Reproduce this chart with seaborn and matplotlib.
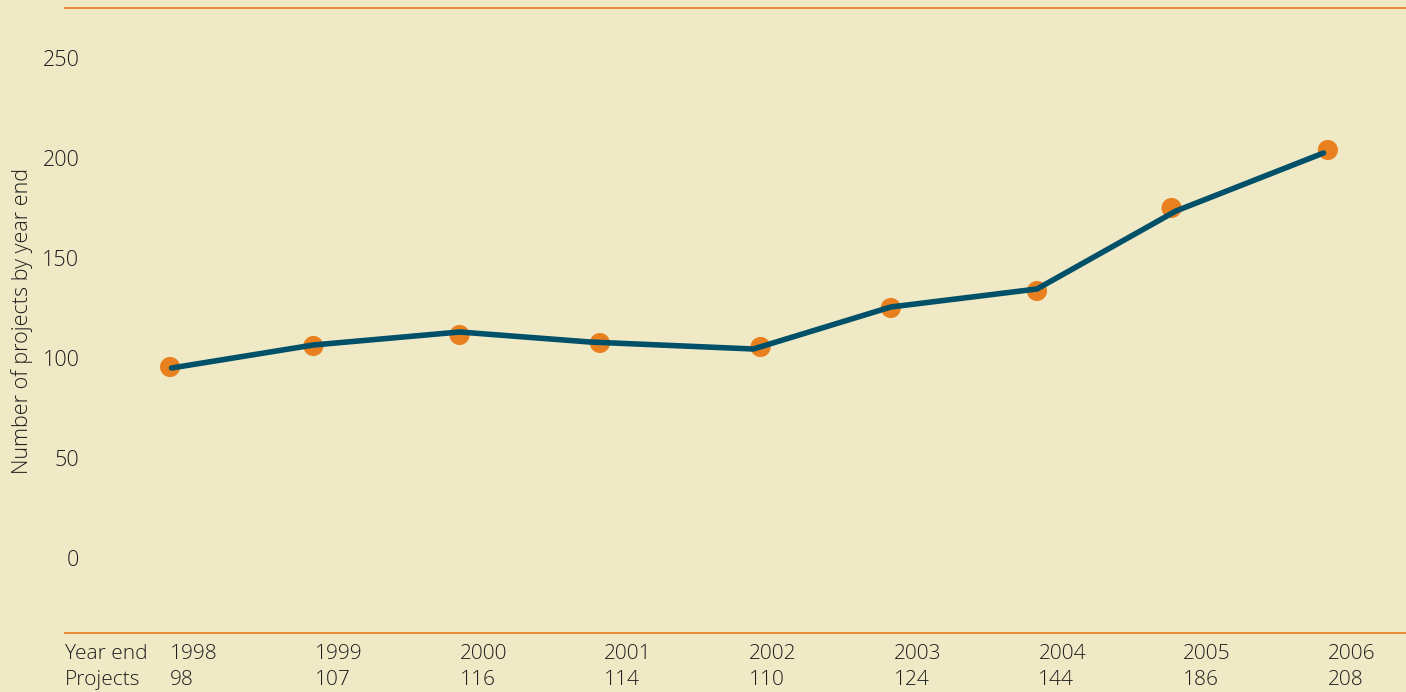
import matplotlib
matplotlib.use("Agg")
import matplotlib.pyplot as plt
import matplotlib.transforms as mtransforms
import seaborn as sns
import pandas as pd

# ---- data ----
years = [1998, 1999, 2000, 2001, 2002, 2003, 2004, 2005, 2006]
projects = [98, 107, 116, 114, 110, 124, 144, 186, 208]

# plotted dots (fractional year position, value)
dot_x = [1998.0, 1998.99, 2000.0, 2000.97, 2002.08, 2002.98, 2003.99, 2004.92, 2006.0]
dot_y = [95.5, 106.0, 111.5, 107.5, 105.5, 125.0, 133.5, 175.0, 204.0]

# plotted line vertices
line_x = [1998.01, 1998.99, 2000.0, 2000.90, 2002.03, 2002.98, 2003.99, 2004.95, 2005.97]
line_y = [95.0, 106.5, 113.0, 108.0, 104.5, 125.5, 134.5, 173.5, 202.5]

y_ticks = [0, 50, 100, 150, 200, 250]
y_label = "Number of projects by year end"
row_labels = ["Year end", "Projects"]

# ---- style ----
BG = "#f0e9c6"
ORANGE = "#e9801f"
TEAL = "#00506a"
TEXT = "#1e1e1e"
W = "light"

sns.set_theme(style="white")
plt.rcParams["font.family"] = ["Open Sans", "DejaVu Sans"]

fig = plt.figure(figsize=(14.06, 6.92), dpi=100, facecolor=BG)
ax = fig.add_axes([65 / 1406, 59 / 692, 1 - 65 / 1406, 625 / 692])
ax.set_facecolor(BG)

line_df = pd.DataFrame({"x": line_x, "y": line_y})
dot_df = pd.DataFrame({"x": dot_x, "y": dot_y})

sns.scatterplot(data=dot_df, x="x", y="y", ax=ax, s=210, color=ORANGE,
                edgecolor="none", zorder=2)
sns.lineplot(data=line_df, x="x", y="y", ax=ax, color=TEAL, linewidth=4.0,
             zorder=3, sort=False)

ax.set_xlim(1997.274, 2006.54)
ax.set_ylim(-37.5, 275)

for side in ["left", "right"]:
    ax.spines[side].set_visible(False)
for side in ["top", "bottom"]:
    ax.spines[side].set_visible(True)
    ax.spines[side].set_color("#eb8a35")
    ax.spines[side].set_linewidth(1.4)

ax.set_xticks([])
ax.set_xlabel("")
ax.set_yticks(y_ticks)
ax.set_yticklabels([str(t) for t in y_ticks], fontweight=W)
ax.tick_params(axis="y", length=0, pad=-10.3, labelsize=15.5, labelcolor=TEXT)
for lbl in ax.get_yticklabels():
    lbl.set_horizontalalignment("right")

ax.set_ylabel(y_label, fontsize=15.5, color=TEXT, fontweight=W)
ax.yaxis.set_label_coords(-0.024, 0.5)

# ---- table beneath ----
trans = mtransforms.blended_transform_factory(ax.transData, ax.transAxes)
row_y = [-0.0336, -0.0752]
kw = dict(ha="left", va="center", fontsize=15, color=TEXT, clip_on=False,
          fontweight=W)
ax.text(0.0, row_y[0], row_labels[0], transform=ax.transAxes, **kw)
ax.text(0.0, row_y[1], row_labels[1], transform=ax.transAxes, **kw)
for yr, pr in zip(years, projects):
    ax.text(yr, row_y[0], str(yr), transform=trans, **kw)
    ax.text(yr, row_y[1], str(pr), transform=trans, **kw)

fig.savefig("out.png", dpi=100, facecolor=BG)
